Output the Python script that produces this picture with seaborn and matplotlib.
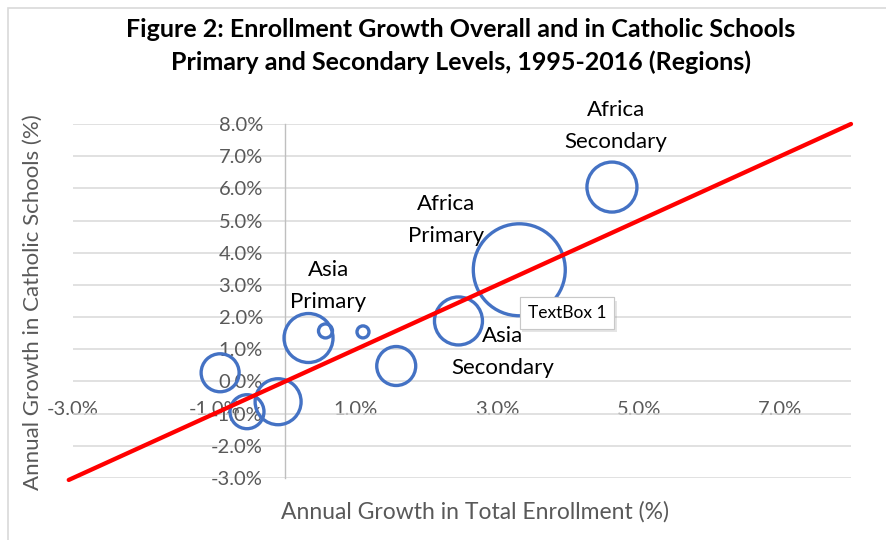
import matplotlib
matplotlib.use("Agg")
import matplotlib.pyplot as plt
import matplotlib.patheffects as pe
from matplotlib.patches import Rectangle
import seaborn as sns
import pandas as pd

# Annual growth (%) in total enrollment and in Catholic schools, by region/level
total_growth = [3.31, 4.62, 2.45, 0.33, 0.57, 1.10, 1.57, -0.92, -0.54, -0.10]
catholic_growth = [3.47, 6.04, 1.88, 1.35, 1.57, 1.54, 0.48, 0.27, -0.94, -0.63]
# Relative bubble sizes (area)
bubble_size = [2116, 625, 576, 600, 49, 36, 380, 361, 289, 529]

# Labelled groups: (text, x, y) in data units
labels = [
    ("Africa\nSecondary", 4.68, 7.94),
    ("Africa\nPrimary", 2.28, 5.02),
    ("Asia\nPrimary", 0.61, 2.98),
    ("Asia\nSecondary", 3.08, 0.93),
]

x_ticks = [-3, -1, 1, 3, 5, 7]
x_tick_labels = ["-3.0%", "-1.0%", "1.0%", "3.0%", "5.0%", "7.0%"]
y_ticks = [-3, -2, -1, 0, 1, 2, 3, 4, 5, 6, 7, 8]
y_tick_labels = ["-3.0%", "-2.0%", "-1.0%", "0.0%", "1.0%", "2.0%", "3.0%",
                 "4.0%", "5.0%", "6.0%", "7.0%", "8.0%"]
parity_x = [-3.06, 8.0]

df = pd.DataFrame({"total": total_growth, "catholic": catholic_growth,
                   "size": bubble_size})
ref = pd.DataFrame({"x": parity_x, "y": parity_x})

sns.set_style("white")
plt.rcParams["font.family"] = ["Lato", "DejaVu Sans"]

fig = plt.figure(figsize=(8.86, 5.40), dpi=100)
ax = fig.add_axes([73 / 886, 1 - 478 / 540, (851 - 73) / 886, (478 - 124) / 540])

# chart border
fig.patches.append(Rectangle((8 / 886, -0.1), 1.2, 1 - 8 / 540 + 0.1,
                             transform=fig.transFigure, fill=False,
                             edgecolor="#D9D9D9", linewidth=1.2, zorder=0))

blue = "#4472C4"
k = 4385 / max(bubble_size)
sns.scatterplot(data=df, x="total", y="catholic", size="size",
                sizes=(k * min(bubble_size), k * max(bubble_size)),
                legend=False, ax=ax, zorder=3)
pts = ax.collections[-1]
pts.set_facecolor("none")
pts.set_edgecolor(blue)
pts.set_linewidth(2.4)

sns.lineplot(data=ref, x="x", y="y", color="#FF0000", linewidth=3.1,
             ax=ax, zorder=4)
ax.lines[-1].set_clip_on(False)

ax.set_xlim(-3, 8)
ax.set_ylim(-3, 8)
ax.set_xticks(x_ticks)
ax.set_xticklabels(x_tick_labels)
ax.set_yticks(y_ticks)
ax.set_yticklabels(y_tick_labels)

ax.yaxis.grid(True, color="#D9D9D9", linewidth=1.1)
ax.xaxis.grid(False)
ax.set_axisbelow(True)

for s in ["top", "right"]:
    ax.spines[s].set_visible(False)
ax.spines["bottom"].set_visible(False)
ax.spines["bottom"].set_position(("data", 0))
ax.spines["left"].set_position(("data", 0))
ax.spines["left"].set_color("#BFBFBF")
ax.spines["left"].set_linewidth(1.0)
ax.spines["left"].set_zorder(1)

ax.tick_params(axis="both", length=0, labelsize=14.5, labelcolor="#595959")
ax.tick_params(axis="x", pad=14)
ax.tick_params(axis="y", pad=16)

ax.set_xlabel("")
ax.set_ylabel("")
fig.text(475 / 886, 1 - 512 / 540, "Annual Growth in Total Enrollment (%)",
         ha="center", va="center", fontsize=16.5, color="#595959")
fig.text(33 / 886, 1 - 302 / 540, "Annual Growth in Catholic Schools (%)",
         ha="center", va="center", rotation=90, fontsize=16, color="#595959")

title = ("Figure 2: Enrollment Growth Overall and in Catholic Schools\n"
         "Primary and Secondary Levels, 1995-2016 (Regions)")
fig.text(461 / 886, 1 - 46 / 540, title, ha="center", va="center",
         fontsize=18, fontweight="bold", linespacing=1.5, color="black")

for txt, lx, ly in labels:
    ax.text(lx, ly, txt, ha="center", va="center", fontsize=16,
            linespacing=1.75, color="black", zorder=5)

tb = ax.text(3.99, 2.13, "TextBox 1", ha="center", va="center", fontsize=12.5,
             color="black", zorder=6,
             bbox=dict(boxstyle="square,pad=0.45", facecolor="white",
                       edgecolor="#C8C8C8", linewidth=0.8))
tb.get_bbox_patch().set_path_effects(
    [pe.withSimplePatchShadow(offset=(1.5, -2.5), shadow_rgbFace="#999999",
                              alpha=0.25), pe.Normal()])

fig.savefig("out.png", dpi=100)
